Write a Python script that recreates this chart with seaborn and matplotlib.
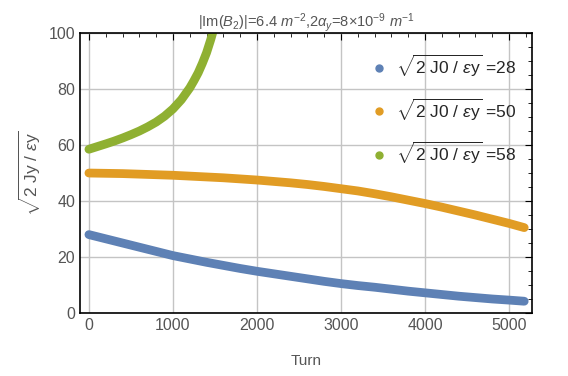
import numpy as np
import pandas as pd
import seaborn as sns
import matplotlib.pyplot as plt
from matplotlib.lines import Line2D
from matplotlib.ticker import MultipleLocator

turns = [0, 200, 400, 600, 800, 1000, 1200, 1400, 1600, 1800, 2000, 2200, 2400, 2600,
         2800, 3000, 3200, 3400, 3600, 3800, 4000, 4200, 4400, 4600, 4800, 5000, 5180]
j28 = [28, 26.5, 25, 23.5, 22, 20.5, 19.3, 18.1, 17, 15.9, 14.9, 14, 13.1, 12.2,
       11.3, 10.5, 9.8, 9.2, 8.5, 7.8, 7.2, 6.6, 6.0, 5.5, 5.0, 4.6, 4.2]
j50 = [50, 49.9, 49.8, 49.6, 49.4, 49.2, 48.9, 48.6, 48.3, 47.9, 47.5, 47.0, 46.5, 45.9,
       45.2, 44.4, 43.6, 42.6, 41.5, 40.3, 39.1, 37.8, 36.4, 35.0, 33.5, 32.0, 30.5]
turns58 = [0, 100, 200, 300, 400, 500, 600, 700, 800, 900, 1000, 1100, 1200, 1250,
           1300, 1350, 1400, 1450, 1500]
j58 = [58.5, 59.45, 60.4, 61.4, 62.5, 63.7, 65.0, 66.5, 68.2, 70.3, 72.9, 76.2, 80.4, 83.0,
       85.8, 89.2, 93.0, 97.7, 103]

labels = ['28', '50', '58']
colors = ['#5E81B5', '#E19C24', '#8FB032']

df = pd.concat([
    pd.DataFrame({'turn': turns, 'J': j28, 'case': '28'}),
    pd.DataFrame({'turn': turns, 'J': j50, 'case': '50'}),
    pd.DataFrame({'turn': turns58, 'J': j58, 'case': '58'}),
])

sns.set_style('white')
plt.rcParams['font.family'] = ['Liberation Sans', 'DejaVu Sans']
plt.rcParams['mathtext.fontset'] = 'custom'
plt.rcParams['mathtext.rm'] = 'Liberation Sans'
plt.rcParams['mathtext.it'] = 'Liberation Sans:italic'

fig = plt.figure(figsize=(5.68, 3.76), dpi=100)
ax = fig.add_axes([0.141, 0.1676, 0.796, 0.7444])

sns.lineplot(data=df, x='turn', y='J', hue='case', palette=colors, linewidth=6.3,
             solid_capstyle='round', legend=False, ax=ax)

ax.set_xlim(-105, 5275)
ax.set_ylim(0, 100)
ax.xaxis.set_major_locator(MultipleLocator(1000))
ax.xaxis.set_minor_locator(MultipleLocator(200))
ax.yaxis.set_major_locator(MultipleLocator(20))
ax.yaxis.set_minor_locator(MultipleLocator(5))
ax.grid(True, which='major', color='#c4c4c4', linewidth=1)
ax.tick_params(which='both', direction='in', top=True, right=True, colors='black',
               labelcolor='#555555', labelsize=11.5)
ax.tick_params(which='major', length=5)
ax.tick_params(which='minor', length=3)
for s in ax.spines.values():
    s.set_color('black')
    s.set_linewidth(1.2)

ax.set_xlabel('Turn', color='#555555', fontsize=11, labelpad=15)
ax.set_ylabel(r'$\sqrt{2\ \mathrm{Jy}\ /\ \epsilon\mathrm{y}}$', color='#555555', fontsize=12.5, labelpad=4)
ax.set_title(r'|Im($B_2$)|=6.4 $m^{-2}$,2$\alpha_y$=8$\times$10$^{-9}$ $m^{-1}$',
             color='#555555', fontsize=10.5, pad=5)

handles = [Line2D([], [], linestyle='none', marker='o', markersize=5, color=c) for c in colors]
leg_labels = [r'$\sqrt{2\ \mathrm{J0}\ /\ \epsilon\mathrm{y}}$ =' + l for l in labels]
ax.legend(handles, leg_labels, loc='upper right', bbox_to_anchor=(1.0, 0.985), frameon=False,
          fontsize=12.5, labelspacing=1.0, handlelength=1.0, handletextpad=0.5)

fig.savefig('out.png', dpi=100)
